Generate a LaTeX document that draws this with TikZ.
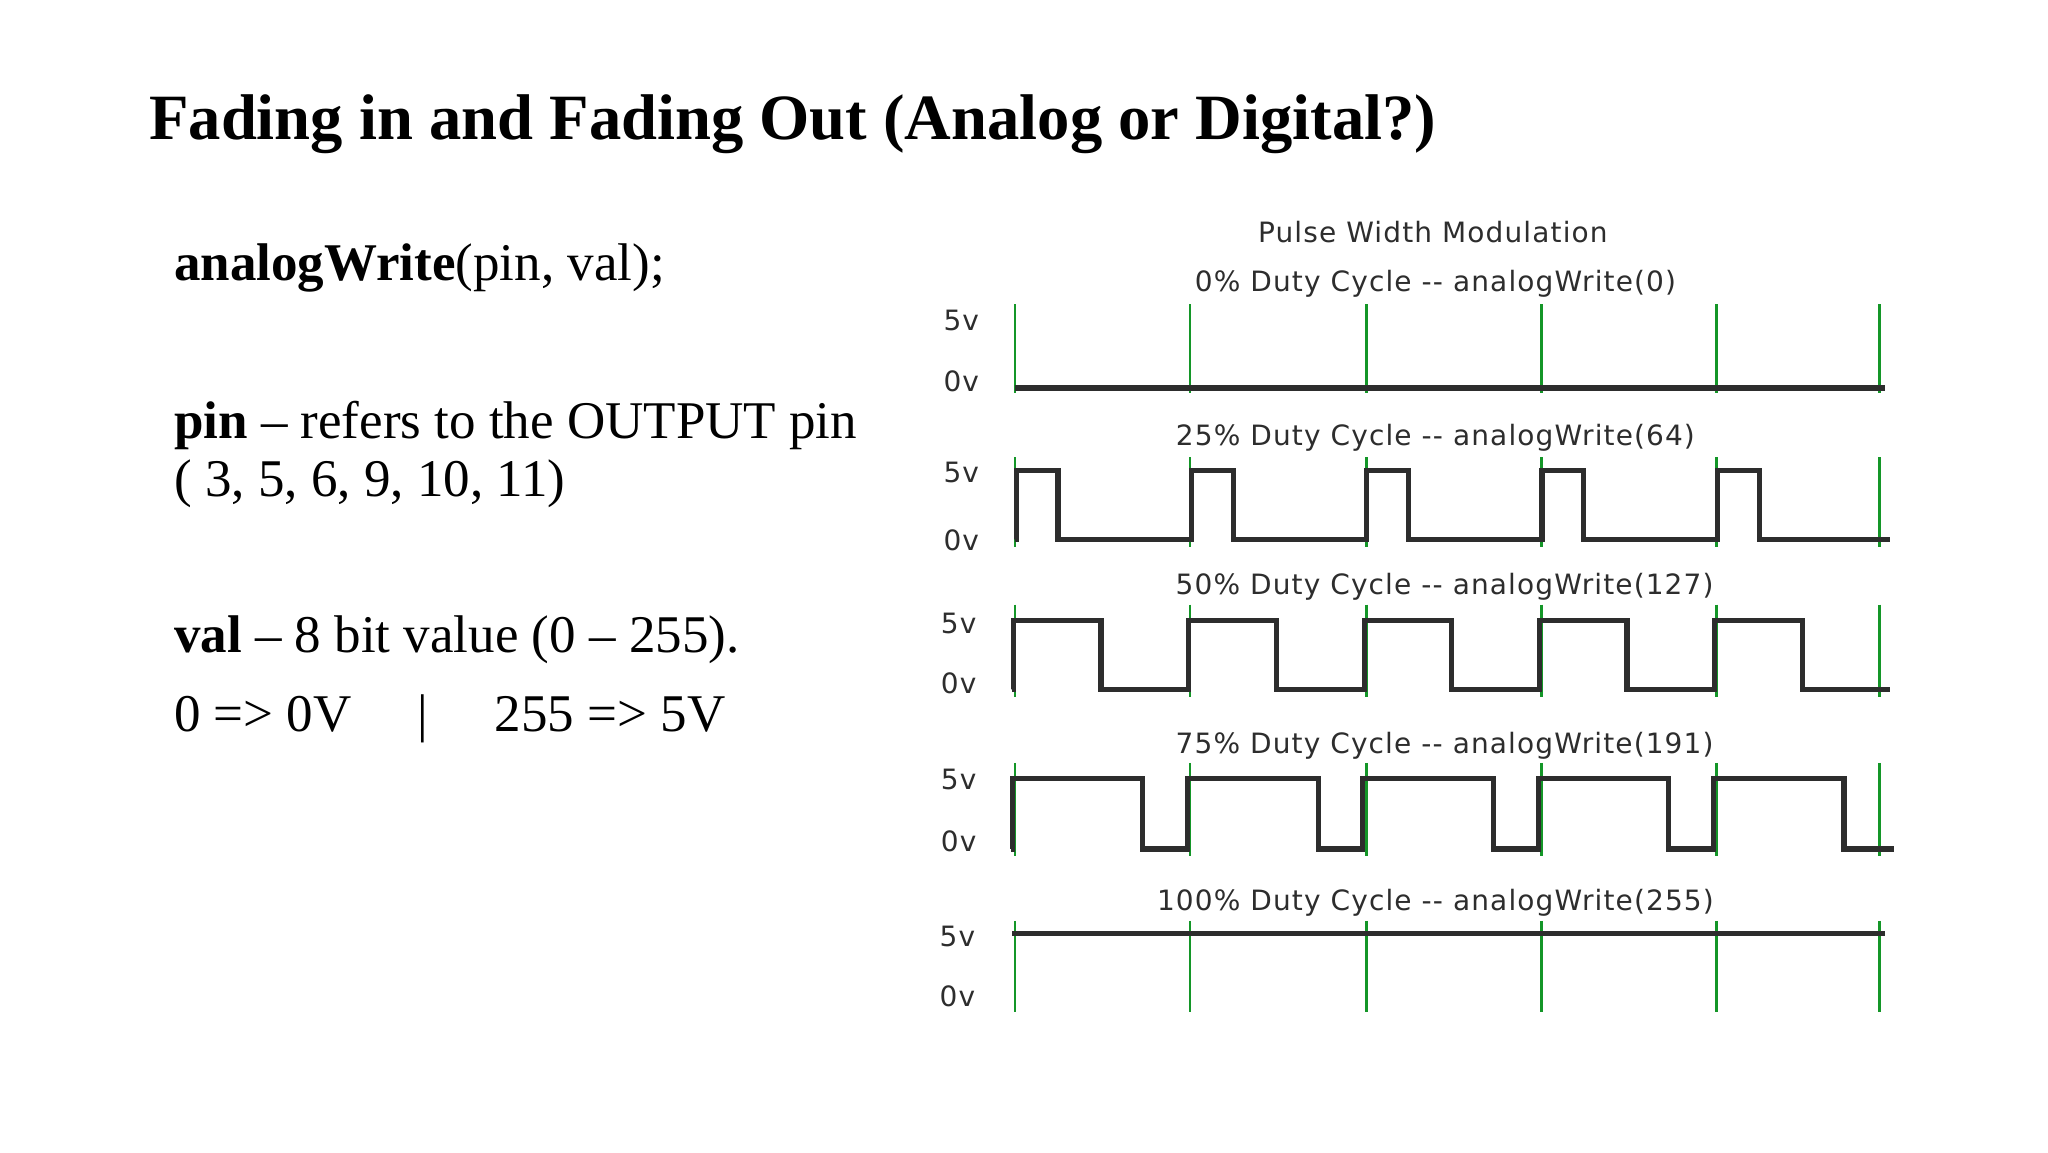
\documentclass[tikz,border=0pt]{standalone}
\usepackage{fontspec}
\setmainfont{Liberation Serif}
\newfontfamily\wsans[LetterSpace=4]{DejaVu Sans}
\definecolor{gr}{RGB}{20,150,40}
\definecolor{wv}{RGB}{45,45,45}
\begin{document}
\begin{tikzpicture}[x=0.65306pt,y=-0.65306pt,
  wave/.style={wv,line width=2.6pt,line join=miter},
  grn/.style={gr,line width=1.3pt},
  lab/.style={font=\wsans\fontsize{14}{16}\selectfont,text=wv,inner sep=0},
  ttl/.style={font=\wsans\fontsize{14}{16}\selectfont,text=wv,inner sep=0},
  body/.style={font=\fontsize{26.5}{30}\selectfont,anchor=west,inner sep=0}]
\useasboundingbox (0,0) rectangle (1568,882);
\fill[white] (0,0) rectangle (1568,882);
\node[anchor=west,inner sep=0,font=\bfseries\fontsize{32.3}{36}\selectfont] (title) at (114,95) {Fading in and Fading Out (Analog or Digital?)};
\node[body] (t1) at (133,205) {\textbf{analogWrite}(pin, val);};
\node[body] (t2) at (133,326) {\textbf{pin} -- refers to the OUTPUT pin};
\node[body] (t3) at (133,370) {( 3, 5, 6, 9, 10, 11)};
\node[body] (t4) at (133,490) {\textbf{val} -- 8 bit value (0 -- 255).};
\node[body] (t5) at (133,550) {0 => 0V \quad | \quad 255 => 5V};
\node[ttl] (pwm) at (1097,178) {Pulse Width Modulation};
% row titles
\node[ttl] (r1) at (1099,217) {0\% Duty Cycle -- analogWrite(0)};
\node[ttl] (r2) at (1099,335) {25\% Duty Cycle -- analogWrite(64)};
\node[ttl] (r3) at (1106,449) {50\% Duty Cycle -- analogWrite(127)};
\node[ttl] (r4) at (1106,571) {75\% Duty Cycle -- analogWrite(191)};
\node[ttl] (r5) at (1099,691) {100\% Duty Cycle -- analogWrite(255)};
% axis labels
\foreach \h/\l/\xx in {245/292/736, 362/414/736, 477/523/734, 597/644/734, 717/763/733}{
  \node[lab] at (\xx,\h) {5v};
  \node[lab] at (\xx,\l) {0v};
}
% green markers
\foreach \a/\b in {233/301, 350/419, 463/534, 584/655, 705/775}{
  \foreach \gx in {777,911,1046,1180,1314,1439}
    \draw[grn] (\gx,\a) -- (\gx,\b);
}
% row 1
\draw[wave] (777,297) -- (1443,297);
% row 2
\draw[wave] (777,413) \foreach \s in {0,...,4}{ -- ({778+134.2*\s},413) -- ({778+134.2*\s},360) -- ({810+134.2*\s},360) -- ({810+134.2*\s},413)} -- (1447,413);
% row 3
\draw[wave] (775,528) \foreach \s in {0,...,4}{ -- ({776+134.2*\s},528) -- ({776+134.2*\s},475) -- ({843+134.2*\s},475) -- ({843+134.2*\s},528)} -- (1447,528);
% row 4
\draw[wave] (774,650) \foreach \s in {0,...,4}{ -- ({775+134.2*\s},650) -- ({775+134.2*\s},596) -- ({875+134.2*\s},596) -- ({875+134.2*\s},650)} -- (1450,650);
% row 5
\draw[wave] (775,715) -- (1443,715);
\end{tikzpicture}
\end{document}
